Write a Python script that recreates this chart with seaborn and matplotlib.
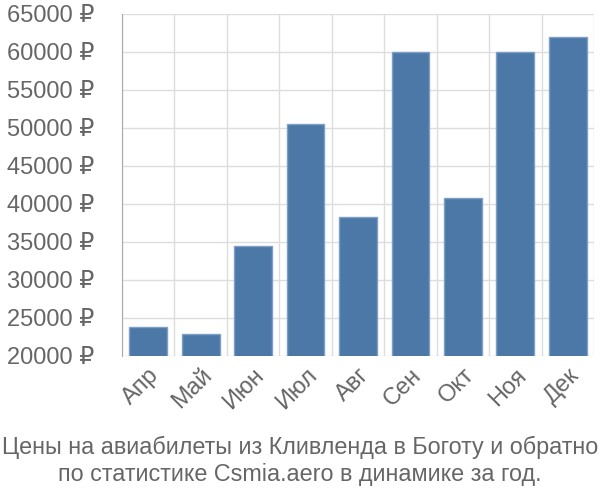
import matplotlib
matplotlib.use("Agg")
import matplotlib.pyplot as plt
import seaborn as sns
import pandas as pd
import numpy as np
from matplotlib.ticker import FixedLocator, FuncFormatter

months = ["Апр", "Май", "Июн", "Июл", "Авг", "Сен", "Окт", "Ноя", "Дек"]
prices = [23800, 22900, 34500, 50500, 38300, 60000, 40800, 60000, 62000]
yticks = list(range(20000, 65001, 5000))
title_lines = ["Цены на авиабилеты из Кливленда в Боготу и обратно",
               "по статистике Csmia.aero в динамике за год."]

sns.set_style("white")
plt.rcParams['font.family'] = ['Liberation Sans', 'DejaVu Sans']

df = pd.DataFrame({"month": months, "price": prices})

fig = plt.figure(figsize=(6, 5), dpi=100)
ax = fig.add_axes([122/600, 1-356/500, (594-122)/600, (356-14)/500])

sns.barplot(data=df, x="month", y="price", color="#4c78a8", saturation=1,
            width=0.72, edgecolor="#7f9fc6", linewidth=1, ax=ax, zorder=3)

ax.set_ylim(20000, 65000)
ax.set_xlim(-0.5, len(months) - 0.5)
ax.yaxis.set_major_locator(FixedLocator(yticks))
ax.yaxis.set_major_formatter(FuncFormatter(lambda v, p: f"{int(v)} ₽"))

# vertical grid lines at category boundaries
bounds = np.arange(-0.5, len(months), 1.0)
ax.xaxis.set_minor_locator(FixedLocator(bounds))
ax.grid(True, axis="y", which="major", color="#dddddd", lw=1, zorder=0)
ax.grid(True, axis="x", which="minor", color="#dddddd", lw=1, zorder=0)
ax.grid(False, axis="x", which="major")

ax.tick_params(axis="x", which="minor", length=19, color="#dddddd", width=1)
ax.tick_params(axis="x", which="major", length=0, labelsize=17, labelcolor="#666666", pad=6)
ax.tick_params(axis="y", which="major", length=20, color="#dddddd", width=1,
               labelsize=17, labelcolor="#666666", pad=0)

for lbl in ax.get_xticklabels():
    lbl.set_rotation(45)
    lbl.set_ha("right")
    lbl.set_va("top")
    lbl.set_rotation_mode("anchor")

for s in ["top", "right", "bottom"]:
    ax.spines[s].set_visible(False)
ax.spines["left"].set_color("#aaaaaa")
ax.spines["left"].set_bounds(20000, 65000)

ax.set_xlabel("")
ax.set_ylabel("")

fig.text(0.5, 1-447/500, title_lines[0], ha="center", va="center", fontsize=16.8, color="#666666")
fig.text(0.5, 1-475/500, title_lines[1], ha="center", va="center", fontsize=16.8, color="#666666")

fig.savefig("out.png", dpi=100)
